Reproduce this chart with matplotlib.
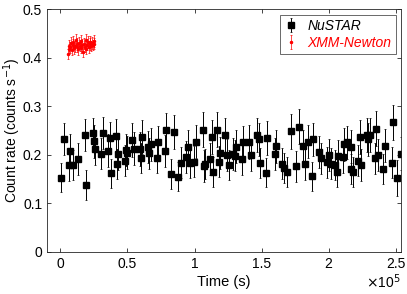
import matplotlib
matplotlib.use('Agg')
import matplotlib.pyplot as plt

plt.rcParams['font.family'] = ['Liberation Sans', 'DejaVu Sans']

# NuSTAR light curve (time in units of 1e5 s)
nu_time = [0.007, 0.03, 0.067, 0.075, 0.092, 0.13, 0.18, 0.194, 0.24, 0.254,
           0.261, 0.30, 0.32, 0.356, 0.366, 0.38, 0.415, 0.425, 0.43, 0.478,
           0.49, 0.50, 0.537, 0.55, 0.59, 0.60, 0.61, 0.65, 0.66, 0.677,
           0.72, 0.726, 0.78, 0.79, 0.826, 0.846, 0.88, 0.90, 0.94, 0.953,
           0.965, 0.997, 1.01, 1.06, 1.07, 1.08, 1.115, 1.127, 1.134, 1.17,
           1.184, 1.19, 1.23, 1.244, 1.256, 1.286, 1.30, 1.311, 1.353, 1.36,
           1.403, 1.418, 1.468, 1.478, 1.485, 1.53, 1.54, 1.597, 1.604, 1.65,
           1.667, 1.69, 1.72, 1.756, 1.78, 1.81, 1.823, 1.843, 1.873, 1.88,
           1.93, 1.94, 1.99, 2.0, 2.017, 2.05, 2.06, 2.067, 2.104, 2.117,
           2.134, 2.164, 2.17, 2.184, 2.22, 2.234, 2.244, 2.283, 2.293, 2.306,
           2.346, 2.356, 2.368, 2.408, 2.418, 2.47, 2.483, 2.513, 2.537]
nu_rate = [0.153, 0.233, 0.179, 0.208, 0.179, 0.191, 0.241, 0.138, 0.245, 0.228,
           0.212, 0.202, 0.245, 0.208, 0.234, 0.162, 0.239, 0.182, 0.201, 0.188,
           0.210, 0.204, 0.230, 0.213, 0.212, 0.193, 0.236, 0.217, 0.203, 0.222,
           0.194, 0.226, 0.208, 0.251, 0.160, 0.248, 0.155, 0.184, 0.196, 0.217,
           0.184, 0.186, 0.227, 0.252, 0.177, 0.182, 0.191, 0.237, 0.165, 0.252,
           0.186, 0.203, 0.240, 0.200, 0.179, 0.202, 0.198, 0.217, 0.191, 0.226,
           0.227, 0.200, 0.241, 0.232, 0.184, 0.163, 0.234, 0.202, 0.218, 0.182,
           0.172, 0.164, 0.249, 0.176, 0.258, 0.218, 0.181, 0.227, 0.156, 0.232,
           0.206, 0.193, 0.185, 0.200, 0.182, 0.179, 0.164, 0.198, 0.195, 0.222,
           0.226, 0.171, 0.217, 0.164, 0.188, 0.237, 0.179, 0.241, 0.232, 0.241,
           0.193, 0.254, 0.200, 0.170, 0.219, 0.184, 0.267, 0.152, 0.202]
nu_err = [0.030, 0.033, 0.032, 0.034, 0.031, 0.033, 0.033, 0.030, 0.031, 0.034,
          0.033, 0.032, 0.033, 0.034, 0.033, 0.030, 0.035, 0.031, 0.033, 0.032,
          0.033, 0.034, 0.035, 0.033, 0.034, 0.031, 0.035, 0.033, 0.032, 0.034,
          0.031, 0.034, 0.033, 0.036, 0.031, 0.035, 0.030, 0.032, 0.033, 0.034,
          0.032, 0.032, 0.034, 0.036, 0.032, 0.031, 0.033, 0.035, 0.031, 0.036,
          0.032, 0.033, 0.035, 0.033, 0.031, 0.033, 0.032, 0.034, 0.032, 0.034,
          0.035, 0.033, 0.035, 0.034, 0.031, 0.030, 0.035, 0.033, 0.034, 0.032,
          0.031, 0.031, 0.036, 0.032, 0.036, 0.034, 0.032, 0.034, 0.030, 0.034,
          0.033, 0.032, 0.032, 0.033, 0.032, 0.031, 0.031, 0.033, 0.032, 0.034,
          0.034, 0.031, 0.034, 0.031, 0.032, 0.035, 0.032, 0.035, 0.034, 0.035,
          0.032, 0.036, 0.033, 0.031, 0.034, 0.032, 0.036, 0.037, 0.034]

# XMM-Newton light curve (time in units of 1e5 s)
xmm_time = [0.055, 0.061, 0.067, 0.073, 0.079, 0.085, 0.091, 0.097, 0.103, 0.109,
            0.115, 0.121, 0.127, 0.133, 0.139, 0.145, 0.151, 0.157, 0.163, 0.169,
            0.175, 0.181, 0.187, 0.193, 0.199, 0.205, 0.211, 0.217, 0.223, 0.229,
            0.235, 0.241, 0.247, 0.253]
xmm_rate = [0.407, 0.418, 0.425, 0.421, 0.430, 0.416, 0.427, 0.433, 0.419, 0.424,
            0.436, 0.422, 0.428, 0.417, 0.431, 0.425, 0.420, 0.434, 0.426, 0.412,
            0.429, 0.423, 0.437, 0.418, 0.427, 0.432, 0.421, 0.428, 0.433, 0.424,
            0.430, 0.426, 0.434, 0.429]
xmm_err = [0.010, 0.011, 0.012, 0.011, 0.012, 0.011, 0.012, 0.012, 0.011, 0.012,
           0.012, 0.011, 0.012, 0.011, 0.012, 0.012, 0.011, 0.012, 0.012, 0.011,
           0.012, 0.011, 0.012, 0.011, 0.012, 0.012, 0.011, 0.012, 0.012, 0.011,
           0.012, 0.011, 0.012, 0.011]

scale = 1e5
nu_t = [t * scale for t in nu_time]
xmm_t = [t * scale for t in xmm_time]

fig = plt.figure(figsize=(4.07, 2.94), dpi=100)
ax = fig.add_axes([0.1155, 0.143, 0.87, 0.826])

ax.errorbar(nu_t, nu_rate, yerr=nu_err, fmt='s', color='black', ms=3.8,
            elinewidth=0.7, capsize=1, capthick=0.5, label='NuSTAR')
ax.errorbar(xmm_t, xmm_rate, yerr=xmm_err, fmt='.', color='red', ms=3,
            elinewidth=0.5, capsize=1, capthick=0.5, label='XMM-Newton')

ax.set_xlim(-0.1e5, 2.54e5)
ax.set_ylim(0, 0.5)
ax.set_xticks([0, 0.5e5, 1e5, 1.5e5, 2e5, 2.5e5])
ax.set_xticklabels(['0', '0.5', '1', '1.5', '2', '2.5'])
ax.set_yticks([0, 0.1, 0.2, 0.3, 0.4, 0.5])
ax.set_yticklabels(['0', '0.1', '0.2', '0.3', '0.4', '0.5'])
ax.tick_params(direction='in', top=True, right=True, labelsize=10, length=3,
               width=0.6, colors='#262626', labelcolor='black')
for s in ax.spines.values():
    s.set_linewidth(0.6)
    s.set_color('#262626')

ax.set_xlabel('Time (s)', fontsize=10.5, labelpad=3)
ax.set_ylabel('Count rate (counts s$^{-1}$)', fontsize=10)
ax.yaxis.set_label_coords(-0.068, 0.5)
fig.text(0.985, 0.01, r'$\times$10$^{5}$', ha='right', va='bottom', fontsize=10)

leg = ax.legend(loc='upper right', frameon=True, fancybox=False,
                edgecolor='#262626', borderpad=0.3, handlelength=1.0,
                handletextpad=0.7, borderaxespad=0.4, labelspacing=0.2,
                prop={'style': 'italic', 'size': 10})
leg.get_frame().set_linewidth(0.6)
leg.get_texts()[1].set_color('red')

fig.savefig('out.png', dpi=100)
